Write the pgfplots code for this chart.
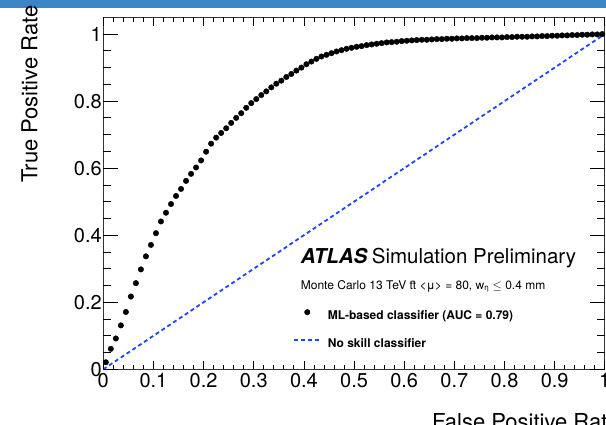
\documentclass[border=0pt]{standalone}
\usepackage{fontspec}
\setmainfont{TeX Gyre Heros}
\usepackage{pgfplots}
\pgfplotsset{compat=1.18}
\definecolor{rootblue}{RGB}{30,70,250}
\definecolor{barblue}{RGB}{58,134,198}

\pgfplotstableread{
x y
0.005 0.021
0.015 0.061
0.025 0.092
0.035 0.131
0.045 0.171
0.055 0.217
0.065 0.257
0.075 0.298
0.085 0.337
0.095 0.371
0.105 0.406
0.115 0.441
0.125 0.467
0.135 0.493
0.145 0.517
0.155 0.538
0.165 0.562
0.175 0.583
0.185 0.602
0.195 0.623
0.205 0.649
0.215 0.673
0.225 0.691
0.235 0.705
0.245 0.719
0.255 0.735
0.265 0.750
0.275 0.764
0.285 0.780
0.295 0.794
0.305 0.806
0.315 0.818
0.325 0.829
0.335 0.841
0.345 0.852
0.355 0.861
0.365 0.872
0.375 0.881
0.385 0.891
0.395 0.900
0.405 0.910
0.415 0.918
0.425 0.926
0.435 0.933
0.445 0.938
0.455 0.943
0.465 0.948
0.475 0.952
0.485 0.956
0.495 0.959
0.505 0.962
0.515 0.964
0.525 0.967
0.535 0.969
0.545 0.971
0.555 0.973
0.565 0.975
0.575 0.976
0.585 0.977
0.595 0.979
0.605 0.980
0.615 0.981
0.625 0.982
0.635 0.983
0.645 0.983
0.655 0.984
0.665 0.985
0.675 0.985
0.685 0.986
0.695 0.986
0.705 0.987
0.715 0.987
0.725 0.988
0.735 0.988
0.745 0.988
0.755 0.989
0.765 0.989
0.775 0.990
0.785 0.990
0.795 0.990
0.805 0.991
0.815 0.991
0.825 0.992
0.835 0.992
0.845 0.992
0.855 0.993
0.865 0.993
0.875 0.994
0.885 0.994
0.895 0.995
0.905 0.995
0.915 0.996
0.925 0.996
0.935 0.997
0.945 0.997
0.955 0.998
0.965 0.998
0.975 0.999
0.985 0.999
0.995 1.000
}\roc

\tikzset{noskill/.style={rootblue,line width=1.8pt,dash pattern=on 4pt off 3pt}}
\pgfplotsset{roc frame/.style={at={(0,0)},anchor=south west,scale only axis,width=501.5pt,height=352pt,
  xmin=0,xmax=1,ymin=0,ymax=1.05,axis line style={line width=0.9pt,black!80},
  tick style={draw=none},
  tick label style={font=\fontsize{20}{24}\selectfont},
  /pgf/number format/assume math mode=true}}

\begin{document}
\begin{tikzpicture}
\useasboundingbox (-103.3pt,-54.7pt) rectangle (502.7pt,369.3pt);
\fill[barblue] (-103.3pt,361.3pt) rectangle (502.7pt,369.3pt);
% y tick labels
\begin{axis}[roc frame,xtick=\empty,ytick={0,0.2,0.4,0.6,0.8,1},yticklabels={0,0.2,0.4,0.6,0.8,1},
  yticklabel style={xshift=2pt}]
\end{axis}
% x tick labels and data
\begin{axis}[roc frame,ytick=\empty,xtick={0,0.1,0.2,0.3,0.4,0.5,0.6,0.7,0.8,0.9,1},
  xticklabels={0,0.1,0.2,0.3,0.4,0.5,0.6,0.7,0.8,0.9,1},
  legend cell align=left,
  legend style={at={(axis cs:0.3786,0.189)},anchor=north west,draw=none,fill=none,inner sep=0pt,
    row sep=12pt,font=\bfseries\fontsize{12}{14}\selectfont,
    nodes={inner sep=0pt,text height=9pt,text depth=3pt},
    /tikz/every odd column/.append style={column sep=6.7pt}}]
\addplot[noskill,forget plot] coordinates {(0,0) (1,1)};
\addplot[only marks,mark=*,mark size=2.75pt,black,
  legend image code/.code={\path[draw=none,fill=none] (0pt,-2pt) rectangle (26pt,10pt); \fill[black] (13pt,4pt) circle (2.75pt);}] table {\roc};
\addlegendentry{ML-based classifier (AUC = 0.79)}
\addlegendimage{noskill,legend image code/.code={\path[draw=none,fill=none] (0pt,-2pt) rectangle (26pt,10pt); \draw[noskill] (0pt,4pt) -- (26pt,4pt);}}
\addlegendentry{No skill classifier}
\end{axis}
% inward ticks on all four sides, ROOT style
\begin{scope}[black,line width=0.8pt]
\foreach \i in {0,...,10} {
  \draw (\i*50.15pt,0pt) -- ++(0pt,8.5pt);
  \draw (\i*50.15pt,352pt) -- ++(0pt,-8.5pt);
}
\foreach \i in {1,...,49} {
  \draw (\i*10.03pt,0pt) -- ++(0pt,4.5pt);
  \draw (\i*10.03pt,352pt) -- ++(0pt,-4.5pt);
}
\foreach \j in {0,...,5} {
  \draw (0pt,\j*67.048pt) -- ++(15pt,0pt);
  \draw (501.5pt,\j*67.048pt) -- ++(-15pt,0pt);
}
\foreach \j in {1,...,20} {
  \draw (0pt,\j*16.762pt) -- ++(7.5pt,0pt);
  \draw (501.5pt,\j*16.762pt) -- ++(-7.5pt,0pt);
}
\end{scope}
\node[rotate=90,anchor=base west,inner sep=0pt,font=\fontsize{22}{26}\selectfont] at (-66pt,186.3pt) {True Positive Rate};
\node[anchor=base west,inner sep=0pt,font=\fontsize{22}{26}\selectfont] at (328.7pt,-59.7pt) {False Positive Rate};
\node[anchor=base west,inner sep=0pt,font=\fontsize{20.5}{24}\selectfont] at (197.4pt,106pt) {\textbf{\textit{ATLAS}}\hspace{0.2em}Simulation Preliminary};
\node[anchor=base west,inner sep=0pt,font=\fontsize{12}{14}\selectfont] at (197.4pt,80.3pt) {Monte Carlo 13 TeV t\={t} <μ> = 80, w\textsubscript{η} $\leq$ 0.4 mm};
\end{tikzpicture}
\end{document}
